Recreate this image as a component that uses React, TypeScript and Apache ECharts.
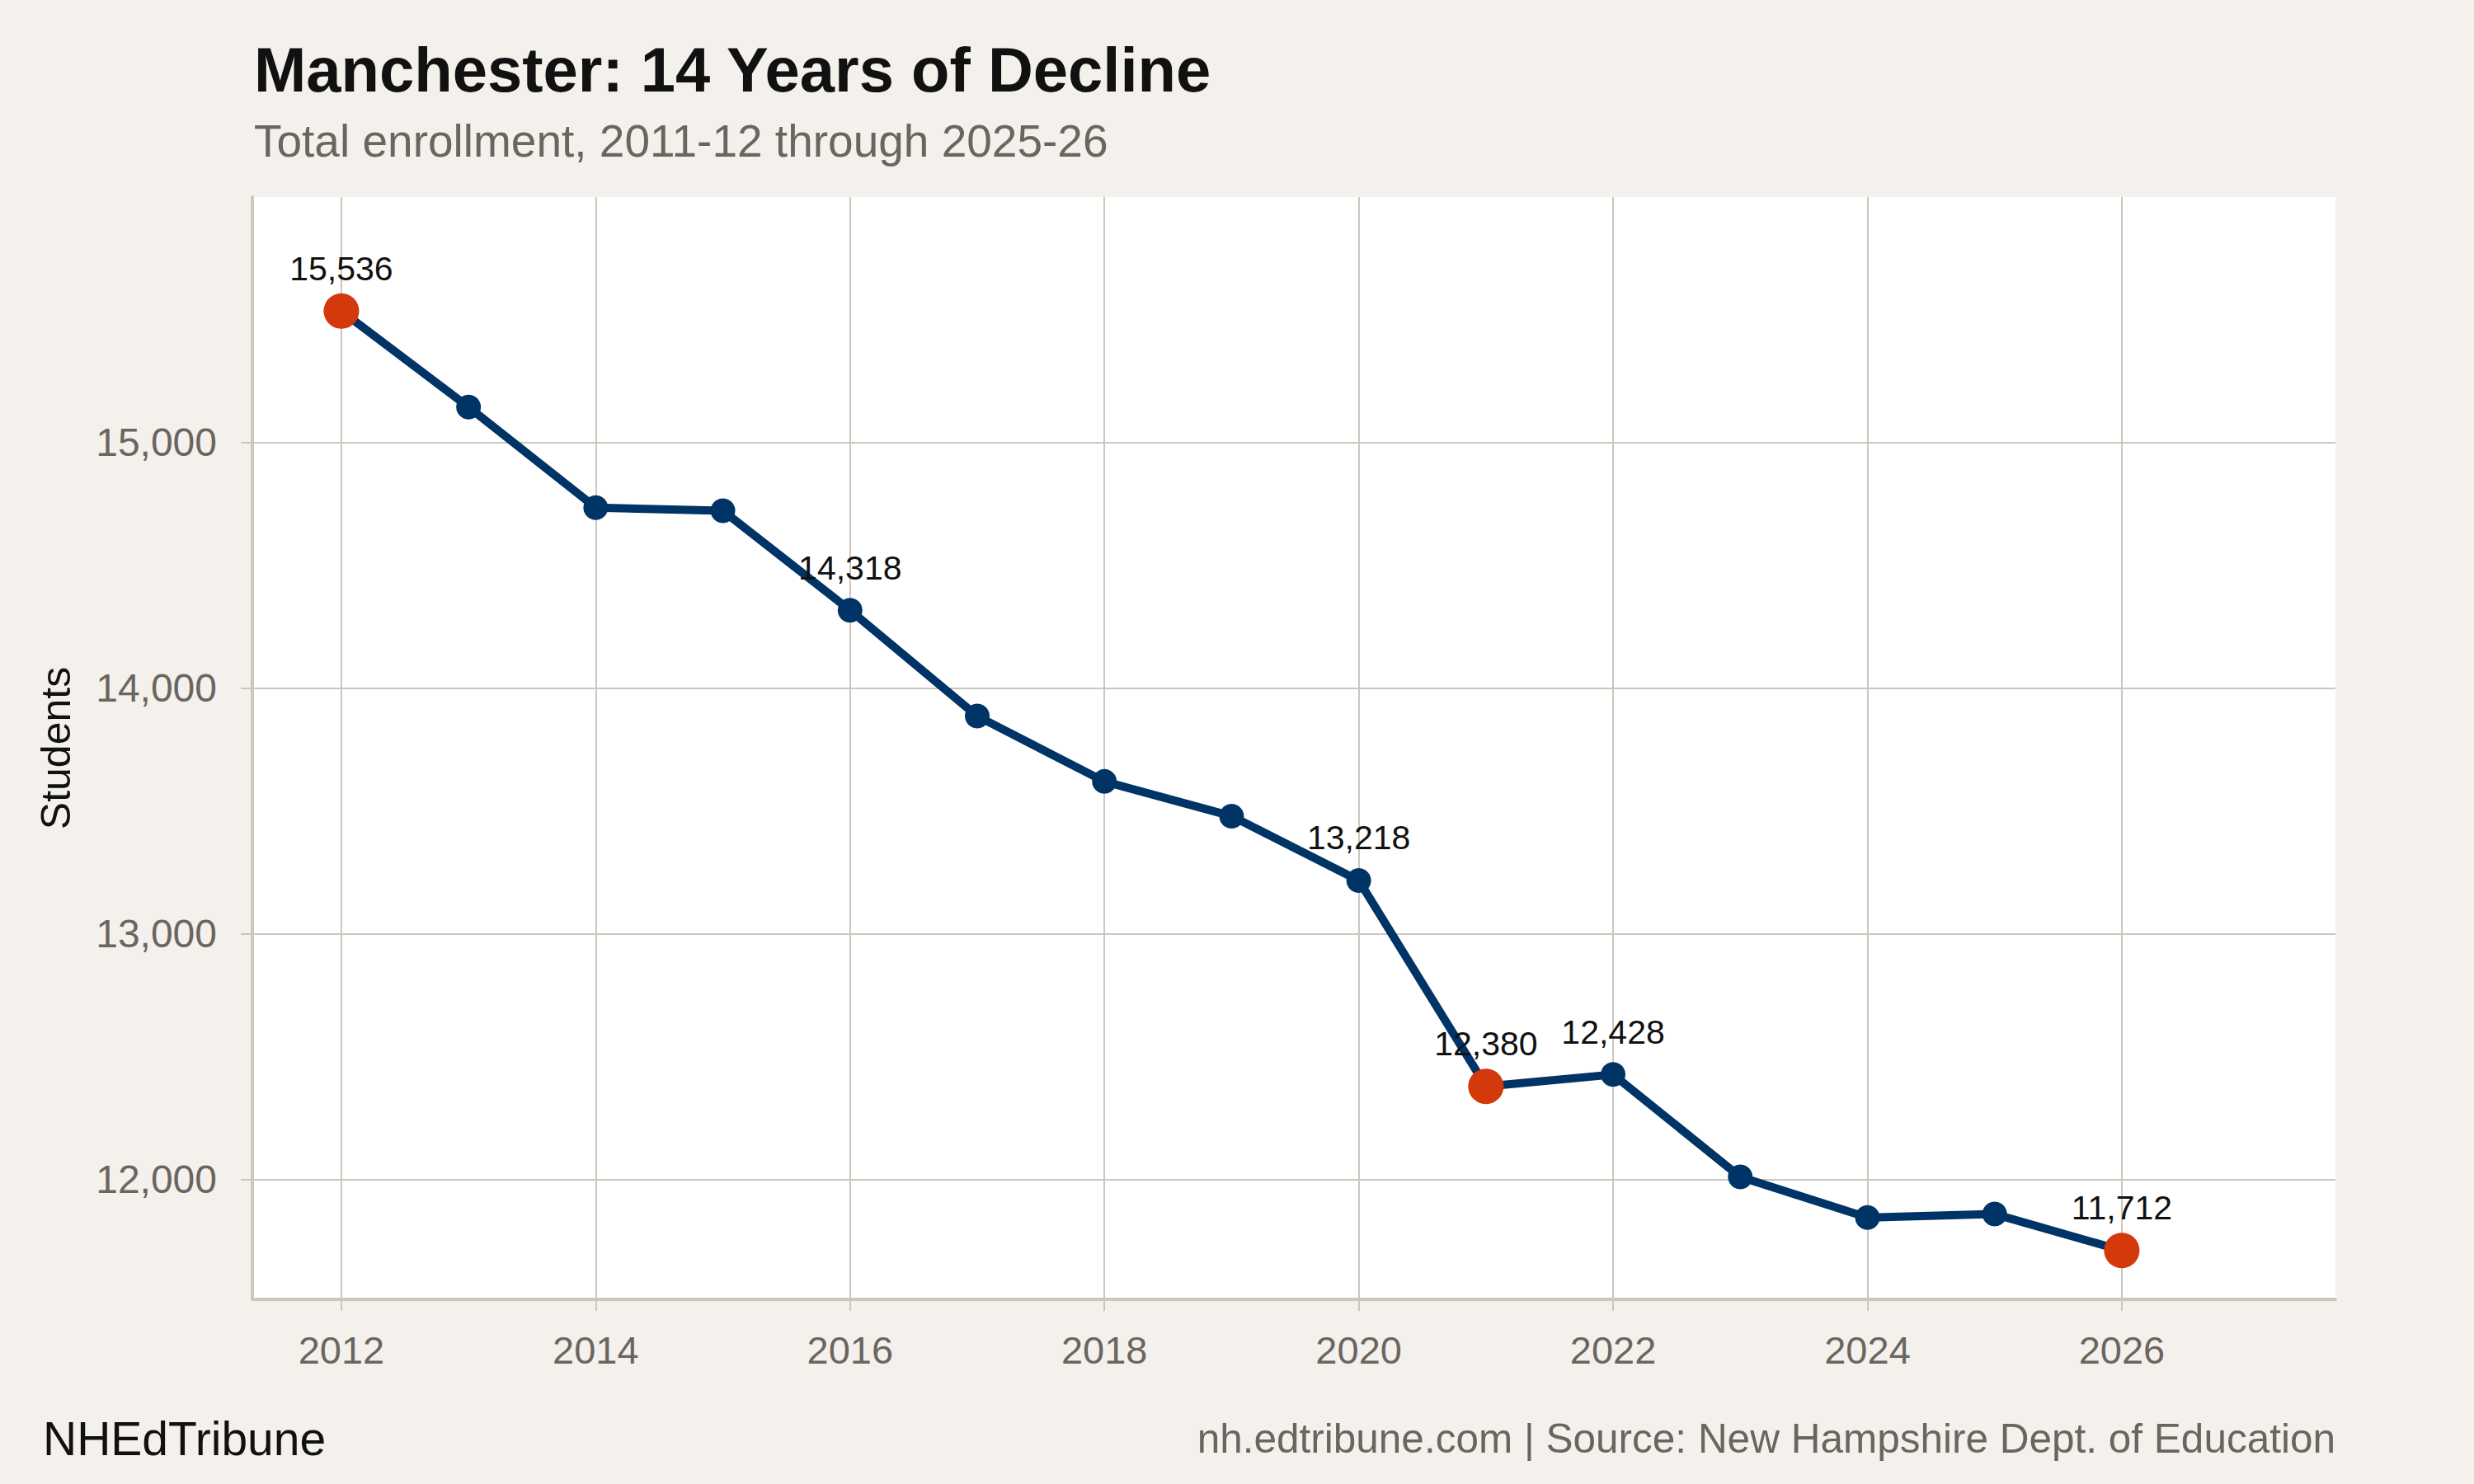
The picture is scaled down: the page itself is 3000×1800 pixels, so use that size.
import React, { useRef, useEffect } from 'react';
import * as echarts from 'echarts';

const years = [2012, 2013, 2014, 2015, 2016, 2017, 2018, 2019, 2020, 2021, 2022, 2023, 2024, 2025, 2026];
const students = [15536, 15145, 14736, 14723, 14318, 13887, 13621, 13480, 13218, 12380, 12428, 12011, 11846, 11860, 11712];
const highlightYears = [2012, 2021, 2026];
const labeledYears = [2012, 2016, 2020, 2021, 2022, 2026];
const xTicks = [2012, 2014, 2016, 2018, 2020, 2022, 2024, 2026];
const yTicks = [12000, 13000, 14000, 15000];

const NAVY = '#003466';
const ORANGE = '#d4390c';
const BG = '#f4f1ec';
const GRID = '#cdc6bc';
const GREY = '#6b6560';
const FONT = '"Liberation Sans", Arial, Helvetica, sans-serif';

const fmt = (v: number) => v.toLocaleString('en-US');

export default function App() {
  const chartRef = useRef<HTMLDivElement>(null);

  useEffect(() => {
    document.body.style.margin = '0';
    if (!chartRef.current) return;
    const chart = echarts.init(chartRef.current, undefined, { renderer: 'svg' });

    const data = years.map((y, i) => {
      const hi = highlightYears.includes(y);
      const size = hi ? 43 : 30;
      return {
        value: [y, students[i]],
        symbolSize: size,
        itemStyle: { color: hi ? ORANGE : NAVY },
        label: {
          show: labeledYears.includes(y),
          position: 'top',
          distance: 51 - size / 2 - 20,
          formatter: () => fmt(students[i]),
          fontSize: 41,
          fontFamily: FONT,
          color: '#111',
        },
        z: hi ? 3 : 2,
      };
    });

    const option: echarts.EChartsOption = {
      animation: false,
      backgroundColor: BG,
      textStyle: { fontFamily: FONT },
      grid: { left: 306, right: 168, top: 239, bottom: 224, show: true, backgroundColor: '#fff', borderWidth: 0 },
      xAxis: {
        type: 'value',
        min: 2011.3,
        max: 2027.68,
        axisLine: { show: true, lineStyle: { color: GRID, width: 4 } },
        axisTick: { show: true, length: 14, lineStyle: { color: GRID, width: 2 }, customValues: xTicks },
        axisLabel: {
          customValues: xTicks,
          formatter: (v: number) => String(v),
          color: GREY,
          fontSize: 47,
          fontFamily: FONT,
          margin: 38,
        },
        splitLine: { show: true, lineStyle: { color: GRID, width: 2 } },
      },
      yAxis: {
        type: 'value',
        min: 11513,
        max: 16000,
        name: 'Students',
        nameLocation: 'middle',
        nameRotate: 90,
        nameGap: 213,
        nameTextStyle: { color: '#111', fontSize: 50, fontFamily: FONT },
        axisLine: { show: true, lineStyle: { color: GRID, width: 4 } },
        axisTick: { show: true, length: 14, lineStyle: { color: GRID, width: 2 }, customValues: yTicks },
        axisLabel: {
          customValues: yTicks,
          formatter: (v: number) => fmt(v),
          color: GREY,
          fontSize: 48,
          fontFamily: FONT,
          margin: 43,
        },
        splitLine: { show: true, lineStyle: { color: GRID, width: 2 } },
      },
      graphic: [
        {
          type: 'text', left: 308, top: 46,
          style: { text: 'Manchester: 14 Years of Decline', fontSize: 76, fontWeight: 'bold', fontFamily: FONT, fill: '#111' },
        },
        {
          type: 'text', left: 308, top: 143,
          style: { text: 'Total enrollment, 2011-12 through 2025-26', fontSize: 55, fontFamily: FONT, fill: GREY },
        },
        {
          type: 'text', left: 52, top: 1716,
          style: { text: 'NHEdTribune', fontSize: 57, fontFamily: FONT, fill: '#111' },
        },
        {
          type: 'text', right: 168, top: 1719,
          style: { text: 'nh.edtribune.com | Source: New Hampshire Dept. of Education', fontSize: 49.5, fontFamily: FONT, fill: GREY },
        },
      ],
      series: [
        {
          type: 'line',
          data,
          symbol: 'circle',
          lineStyle: { color: NAVY, width: 10 },
          itemStyle: { color: NAVY },
        },
      ],
    };

    chart.setOption(option);
    return () => chart.dispose();
  }, []);

  return <div ref={chartRef} style={{ width: 3000, height: 1800 }} />;
}
